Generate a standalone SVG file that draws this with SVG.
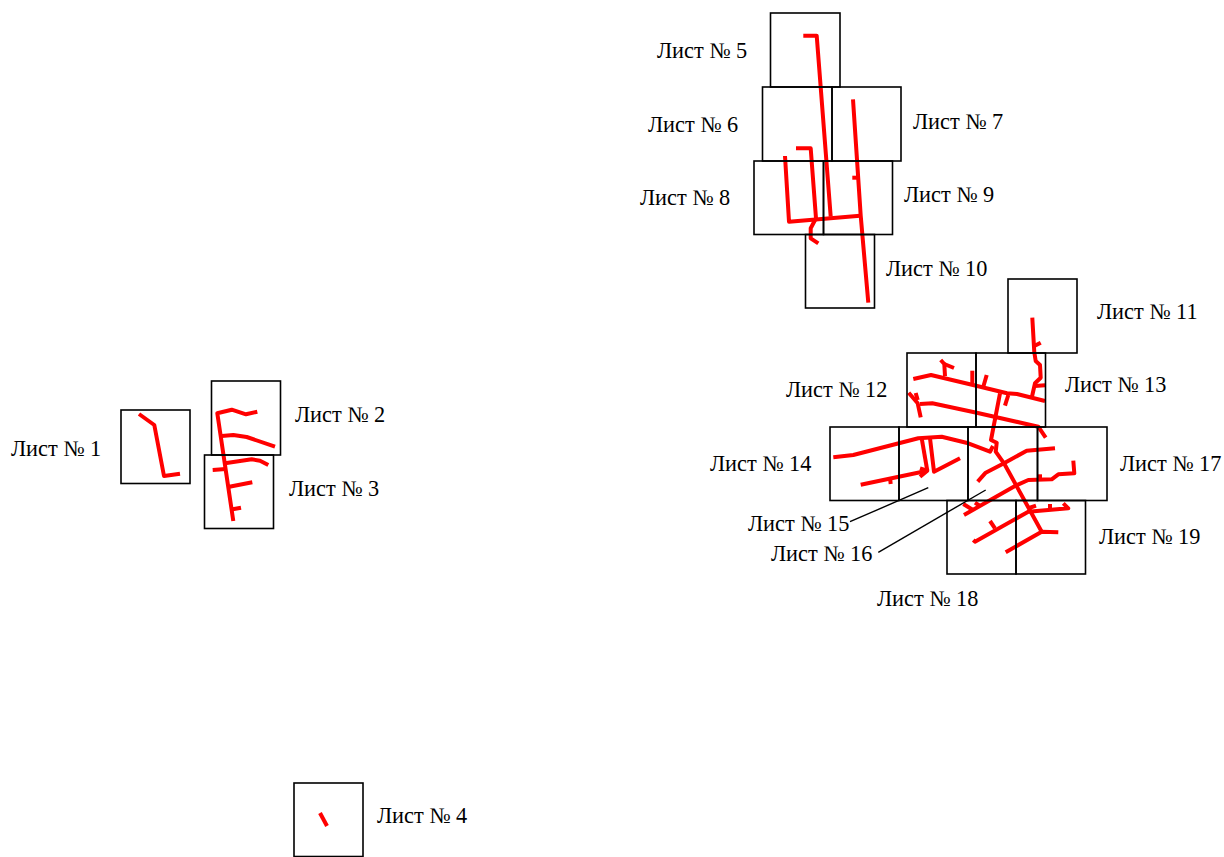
<svg xmlns="http://www.w3.org/2000/svg" width="1224" height="857" viewBox="0 0 1224 857">
<style>
.net{fill:none;stroke:#ff0000;stroke-width:4;stroke-linejoin:round}
.s{fill:none;stroke:#000;stroke-width:1.6}
.l{fill:none;stroke:#000;stroke-width:1.4}
text{font-family:"Liberation Serif","Times New Roman",serif;font-size:22.3px;fill:#000}
</style>
<rect width="1224" height="857" fill="#fff"/>
<g id="network" class="net">
<polyline points="139,414 154.3,425 164,476 180,473.7"/>
<polyline points="257.3,411.7 246,414.3 231.7,409.7 217.3,413.3 233.3,521"/>
<polyline points="221.7,436 233.3,435 246.7,437 275,446.7"/>
<polyline points="225,463.3 251.7,459.3 260,460.7 268.3,465"/>
<polyline points="212.7,470 225.7,469"/>
<polyline points="229.3,486.7 252.3,482.3"/>
<polyline points="232.7,509.3 241,507.7"/>
<polyline points="320,813 327,826"/>
<polyline points="803.3,35.7 816.7,35.7 830.7,216.7"/>
<polyline points="853,99.3 860.7,215.7 868.3,302.7"/>
<polyline points="785,156 789,221.7 860,215.7"/>
<polyline points="796,148.3 810.7,148.3 816,218.3 810.7,228.3 810.7,238.3 818.3,243.3"/>
<polyline points="852.3,177.7 858.3,177.7"/>
<polyline points="913.3,379 931,375 973,385 1007,393.3 1017,394 1045,401"/>
<polyline points="945,376 944.3,364 940.7,360"/>
<polyline points="944.3,364 954,368"/>
<polyline points="972.3,385 972.3,370.7"/>
<polyline points="983.3,386.7 986.7,375"/>
<polyline points="1032.3,317.7 1034.3,352.3 1035.7,361 1040,365 1040.7,377.7 1035,383.3 1031.7,398"/>
<polyline points="1034.3,346 1040.7,342.7"/>
<polyline points="1035,386 1045,385.3"/>
<polyline points="920,404 932.3,403.3 976.7,412.7 1038.3,426.7 1045.7,437.7"/>
<polyline points="920.7,417.3 917.7,403.3 908.7,392.7"/>
<polyline points="917.7,400 915.7,393"/>
<polyline points="1000,393.3 991,440 996.7,442.7 995.7,451.7 1004,463.3 1041.7,531.7"/>
<polyline points="1008.3,395 1005,405.7"/>
<polyline points="833.3,457.3 853.3,455 918.3,438.3 941.7,436.7 968.3,443.3 990,451.7 993,446"/>
<polyline points="921.7,438.3 927.3,470.7"/>
<polyline points="930,438.3 934,471.7 960,458.3"/>
<polyline points="860.7,484.7 927.3,470.7"/>
<polyline points="920,468.3 927.3,470.7 920,476.7"/>
<polyline points="890,478 890.7,484"/>
<polyline points="977.7,481.7 985.7,472.7 1004,463.3 1026.7,450.7 1055,448.3"/>
<polyline points="964,515 1015,486 1028.3,480 1051.7,479.3 1058.3,474.3 1074.3,473.3 1073.3,460.7"/>
<polyline points="1040,479.3 1040,474.3"/>
<polyline points="963.3,504 973,510"/>
<polyline points="975,502.7 980,506"/>
<polyline points="973.3,540 975,541.7 1028.3,511.7 1068.3,508.3 1063.3,503.3"/>
<polyline points="990,521 995,528.3"/>
<polyline points="1029,508 1036,505.7"/>
<polyline points="1050,510 1050,504"/>
<polyline points="1005.7,552.3 1041.7,531.7 1058.3,532.3"/>
</g>
<g id="connectors" class="l">
<line x1="850" y1="521.7" x2="928.3" y2="487.7"/>
<line x1="878.3" y1="552.3" x2="985.7" y2="490"/>
</g>
<g id="sheet-1"><rect class="s" x="121" y="410" width="69" height="73.5"/><text x="11" y="456">Лист № 1</text></g>
<g id="sheet-2"><rect class="s" x="211.5" y="381" width="69" height="74"/><text x="295" y="422">Лист № 2</text></g>
<g id="sheet-3"><rect class="s" x="204.5" y="455" width="69" height="73.5"/><text x="289" y="496">Лист № 3</text></g>
<g id="sheet-4"><rect class="s" x="294" y="783" width="69" height="73.5"/><text x="377" y="823">Лист № 4</text></g>
<g id="sheet-5"><rect class="s" x="770.5" y="13" width="69.5" height="74"/><text x="657" y="58">Лист № 5</text></g>
<g id="sheet-6"><rect class="s" x="762.5" y="87" width="69.5" height="74"/><text x="648" y="132">Лист № 6</text></g>
<g id="sheet-7"><rect class="s" x="832" y="87" width="69" height="74"/><text x="913" y="129">Лист № 7</text></g>
<g id="sheet-8"><rect class="s" x="754" y="161" width="69.5" height="73.5"/><text x="640" y="205">Лист № 8</text></g>
<g id="sheet-9"><rect class="s" x="823.5" y="161" width="69" height="73.5"/><text x="904" y="202">Лист № 9</text></g>
<g id="sheet-10"><rect class="s" x="805.5" y="234.5" width="69" height="73.5"/><text x="886" y="276">Лист № 10</text></g>
<g id="sheet-11"><rect class="s" x="1008" y="279" width="69" height="74"/><text x="1097" y="319">Лист № 11</text></g>
<g id="sheet-12"><rect class="s" x="907" y="353" width="69" height="74"/><text x="786" y="397">Лист № 12</text></g>
<g id="sheet-13"><rect class="s" x="976" y="353" width="69.5" height="74"/><text x="1065" y="392">Лист № 13</text></g>
<g id="sheet-14"><rect class="s" x="830" y="427" width="69" height="73.5"/><text x="710" y="471">Лист № 14</text></g>
<g id="sheet-15"><rect class="s" x="899" y="427" width="69" height="73.5"/><text x="748" y="531">Лист № 15</text></g>
<g id="sheet-16"><rect class="s" x="968" y="427" width="69.5" height="73.5"/><text x="771" y="561">Лист № 16</text></g>
<g id="sheet-17"><rect class="s" x="1037.5" y="427" width="69.5" height="73.5"/><text x="1120" y="471">Лист № 17</text></g>
<g id="sheet-18"><rect class="s" x="947" y="500.5" width="69" height="73.5"/><text x="877" y="606">Лист № 18</text></g>
<g id="sheet-19"><rect class="s" x="1016" y="500.5" width="69.5" height="73.5"/><text x="1099" y="544">Лист № 19</text></g>
</svg>
